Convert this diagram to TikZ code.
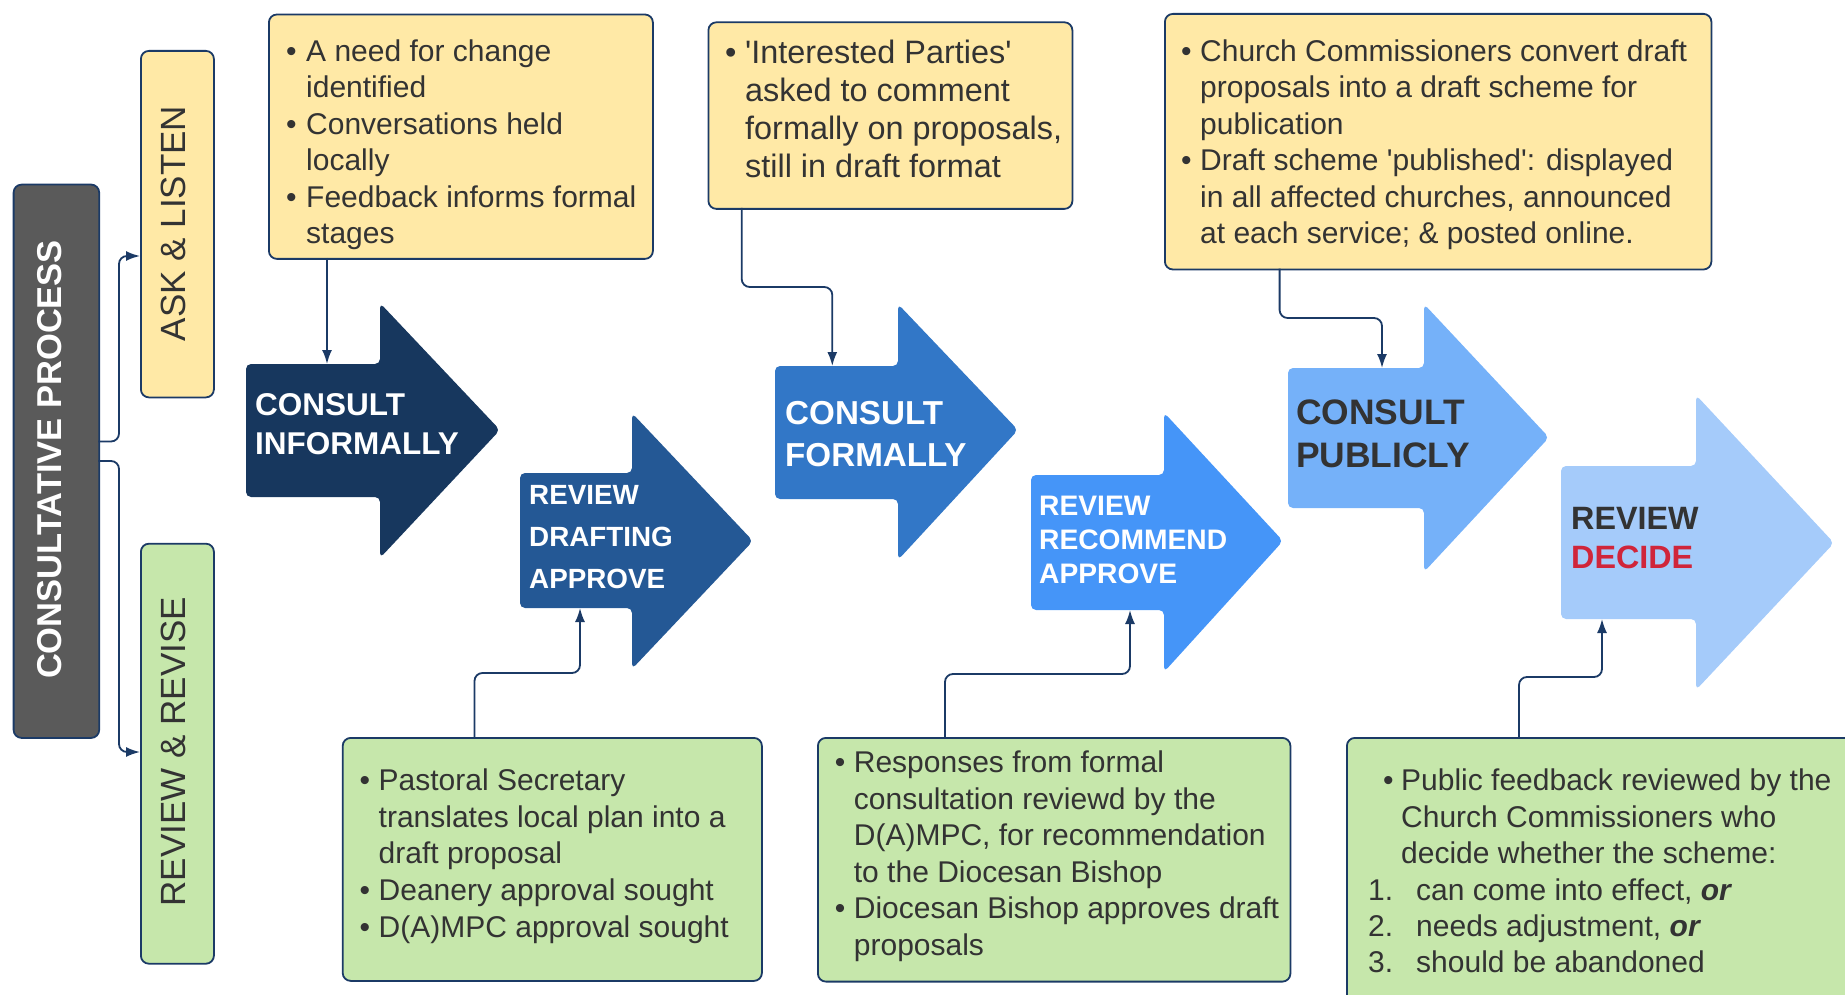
\documentclass[tikz,border=0pt]{standalone}
\usepackage{fontspec}
\setmainfont{Liberation Sans}[Ligatures=TeXOff]
\usetikzlibrary{arrows.meta}
\definecolor{navy}{HTML}{1B3A66}
\definecolor{yel}{HTML}{FFE9A6}
\definecolor{grn}{HTML}{C6E7AB}
\definecolor{cpgrey}{HTML}{5A5A5A}
\definecolor{txtc}{HTML}{333333}
\definecolor{redc}{HTML}{D0253A}
\definecolor{arA}{HTML}{17375E}
\definecolor{arB}{HTML}{245895}
\definecolor{arC}{HTML}{3277C7}
\definecolor{arD}{HTML}{4595F8}
\definecolor{arE}{HTML}{75B1F9}
\definecolor{arF}{HTML}{A5CBFA}
\newlength\bw
\newcommand\bpar[1]{\par\noindent\hangindent=\bw\hangafter=1\makebox[\bw][l]{•}#1}
\newcommand\npar[2]{\par\noindent\makebox[48pt][l]{#1}#2}
\newcommand\bigarrow[9]{\fill[#1, rounded corners=5pt] (#2,#3) -- (#4,#3) -- (#4,#5) -- (#6,#7) -- (#4,#8) -- (#4,#9) -- (#2,#9) -- cycle;}
\tikzset{
  box/.style={draw=navy, line width=1.8pt, rounded corners=8pt, inner sep=0pt, anchor=north west},
  ybox/.style={box, fill=yel},
  gbox/.style={box, fill=grn},
  conn/.style={draw=navy, line width=1.8pt, rounded corners=8pt, -{Latex[length=14pt,width=10pt]}},
  txt/.style={inner sep=0pt, anchor=base west, text=txtc},
  vlabel/.style={inner sep=0pt, rotate=90, text=txtc, font=\fontsize{35}{40}\selectfont},
}
\begin{document}
\begin{tikzpicture}[x=1pt,y=-1pt]
\useasboundingbox (0,0) rectangle (1845,995);
\clip (0,0) rectangle (1845,995);

% left column
\node[box, fill=cpgrey, minimum width=85.6pt, minimum height=553.3pt] (cp) at (12.7,183.7) {};
\node[ybox, minimum width=73pt, minimum height=346.5pt] (ask) at (140,50) {};
\node[gbox, minimum width=73pt, minimum height=420pt] (rev) at (140,542.8) {};
\node[inner sep=0pt, rotate=90, text=white, font=\fontsize{34.5}{40}\selectfont\bfseries] (cpt) at (50,459.5) {CONSULTATIVE PROCESS};
\node[vlabel] (askt) at (173.4,223.5) {ASK \& LISTEN};
\node[vlabel] (revt) at (173.5,751.7) {REVIEW \& REVISE};

\coordinate (cpo1) at (98.3,441.5);
\coordinate (cpo2) at (98.3,461);
\coordinate (askin) at (140,256);
\coordinate (revin) at (140,752);
\draw[conn] (cpo1) -- ++(20.7,0) |- (askin);
\draw[conn] (cpo2) -- ++(20.7,0) |- (revin);

% big arrows
\bigarrow{arA}{246}{364}{380}{303}{500}{430}{558}{497}
\bigarrow{arB}{520}{473}{632}{413}{753}{541}{669}{608}
\bigarrow{arC}{775}{366}{898}{304}{1018}{430}{560}{499}
\bigarrow{arD}{1031}{475}{1164}{412.5}{1283}{541}{672}{610}
\bigarrow{arE}{1288}{368}{1424}{304}{1549}{437.5}{572}{508}
\bigarrow{arF}{1561}{466}{1696}{395}{1834}{543}{690}{619}

\node[txt, text=white] (a1t) at (255,415) {\begin{minipage}[t]{300pt}\fontsize{31.5}{39}\selectfont\bfseries CONSULT\\INFORMALLY\end{minipage}};
\node[txt, text=white] (a2t) at (529,504) {\begin{minipage}[t]{300pt}\fontsize{27.8}{42}\selectfont\bfseries REVIEW\\DRAFTING\\APPROVE\end{minipage}};
\node[txt, text=white] (a3t) at (785,424) {\begin{minipage}[t]{300pt}\fontsize{33.2}{42}\selectfont\bfseries CONSULT\\FORMALLY\end{minipage}};
\node[txt, text=white] (a4t) at (1039,515) {\begin{minipage}[t]{300pt}\fontsize{28.2}{34.4}\selectfont\bfseries REVIEW\\RECOMMEND\\APPROVE\end{minipage}};
\node[txt] (a5t) at (1296,424) {\begin{minipage}[t]{300pt}\fontsize{35.4}{43.5}\selectfont\bfseries CONSULT\\PUBLICLY\end{minipage}};
\node[txt] (a6t) at (1571,529) {\begin{minipage}[t]{300pt}\fontsize{32.3}{39}\selectfont\bfseries REVIEW\\\textcolor{redc}{DECIDE}\end{minipage}};

% yellow boxes
\node[ybox, minimum width=384pt, minimum height=244.4pt] (y1) at (268,13.6) {};
\node[ybox, minimum width=364pt, minimum height=186.6pt] (y2) at (707.5,21.4) {};
\node[ybox, minimum width=546.5pt, minimum height=255.6pt] (y3) at (1164,13) {};

\node[txt] (y1t) at (286,61.5) {\begin{minipage}[t]{360pt}\fontsize{30}{36.5}\selectfont\setlength\bw{20pt}%
\bpar{A need for change\\identified}
\bpar{Conversations held\\locally}
\bpar{Feedback informs formal\\stages}
\end{minipage}};
\node[txt] (y2t) at (725,63.5) {\begin{minipage}[t]{360pt}\fontsize{32.4}{38.1}\selectfont\setlength\bw{20pt}%
\bpar{'Interested Parties'\\asked to comment\\formally on proposals,\\still in draft format}
\end{minipage}};
\node[txt] (y3t) at (1181,61.5) {\begin{minipage}[t]{540pt}\fontsize{30}{36.4}\selectfont\setlength\bw{19pt}%
\bpar{Church Commissioners convert draft\\proposals into a draft scheme for\\publication}
\bpar{Draft scheme 'published': displayed\\in all affected churches, announced\\at each service; \& posted online.}
\end{minipage}};

% green boxes
\node[gbox, minimum width=419.2pt, minimum height=243pt] (g1) at (341.8,737) {};
\node[gbox, minimum width=472.5pt, minimum height=243.7pt] (g2) at (817,737) {};
\node[gbox, minimum width=600pt, minimum height=300pt] (g3) at (1346,737) {};

\node[txt] (g1t) at (359.5,790.5) {\begin{minipage}[t]{400pt}\fontsize{30}{36.7}\selectfont\setlength\bw{19pt}%
\bpar{Pastoral Secretary\\translates local plan into a\\draft proposal}
\bpar{Deanery approval sought}
\bpar{D(A)MPC approval sought}
\end{minipage}};
\node[txt] (g2t) at (834.7,772.5) {\begin{minipage}[t]{460pt}\fontsize{30}{36.6}\selectfont\setlength\bw{19pt}%
\bpar{Responses from formal\\consultation reviewd by the\\D(A)MPC, for recommendation\\to the Diocesan Bishop}
\bpar{Diocesan Bishop approves draft\\proposals}
\end{minipage}};
\node[txt] (g3t) at (1383,790.7) {\begin{minipage}[t]{460pt}\fontsize{30}{36.3}\selectfont\setlength\bw{18pt}%
\bpar{Public feedback reviewed by the\\Church Commissioners who\\decide whether the scheme:}
\end{minipage}};
\node[txt] (g3n) at (1368,900) {\begin{minipage}[t]{470pt}\fontsize{30}{36.3}\selectfont
\npar{1.}{can come into effect, \textbf{\textit{or}}}
\npar{2.}{needs adjustment, \textbf{\textit{or}}}
\npar{3.}{should be abandoned}
\end{minipage}};

% connectors
\coordinate (y1o) at (327,258);
\coordinate (a1in) at (327,364);
\coordinate (y2o) at (741.7,208);
\coordinate (a3in) at (832.3,366);
\coordinate (y3o) at (1279.6,268.6);
\coordinate (a5in) at (1382,368);
\coordinate (g1o) at (474.5,737);
\coordinate (a2in) at (580,608);
\coordinate (g2o) at (945,737);
\coordinate (a4in) at (1130,610);
\coordinate (g3o) at (1519,737);
\coordinate (a6in) at (1602,619);
\draw[conn] (y1o) -- (a1in);
\draw[conn] (y2o) -- ++(0,79) -| (a3in);
\draw[conn] (y3o) -- ++(0,49.4) -| (a5in);
\draw[conn] (g1o) -- ++(0,-64) -| (a2in);
\draw[conn] (g2o) -- ++(0,-63) -| (a4in);
\draw[conn] (g3o) -- ++(0,-60) -| (a6in);
\end{tikzpicture}
\end{document}
